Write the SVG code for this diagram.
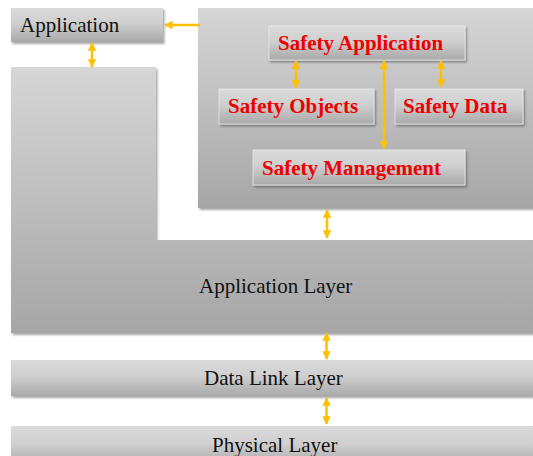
<svg xmlns="http://www.w3.org/2000/svg" width="533" height="456" viewBox="0 0 533 456">
  <defs>
    <linearGradient id="gBox" x1="0" y1="0" x2="0" y2="1">
      <stop offset="0" stop-color="#dadada"/>
      <stop offset="0.45" stop-color="#cfcfcf"/>
      <stop offset="1" stop-color="#a9a9a9"/>
    </linearGradient>
    <linearGradient id="gBig" x1="0" y1="0" x2="0" y2="1">
      <stop offset="0" stop-color="#d6d6d6"/>
      <stop offset="1" stop-color="#a6a6a6"/>
    </linearGradient>
    <filter id="shadow" x="-5%" y="-5%" width="115%" height="125%">
      <feDropShadow dx="1.5" dy="2" stdDeviation="1.2" flood-color="#000" flood-opacity="0.35"/>
    </filter>
    <marker id="head" viewBox="0 0 10 10" refX="9" refY="5" markerWidth="3.4" markerHeight="3.4" orient="auto-start-reverse" markerUnits="strokeWidth">
      <path d="M0,0 L10,5 L0,10 Z" fill="#ffc000"/>
    </marker>
    <style>
      .box { fill: url(#gBox); filter: url(#shadow); }
      .inner { fill: url(#gBox); stroke: #ececec; stroke-width: 0.8; filter: url(#shadow); }
      .big { fill: url(#gBig); filter: url(#shadow); }
      text { font-family: 'Liberation Serif', 'Times New Roman', 'DejaVu Serif', serif; font-size: 21px; }
      .lbl { fill: #111; }
      .red { font-weight: bold; fill: #ee0000; }
      .arr { stroke: #ffc000; stroke-width: 2.5; fill: none; }
    </style>
  </defs>

  <!-- Application Layer (L-shaped block) -->
  <g id="application-layer">
    <path class="big" d="M11,67 H156 V240 H533 V333 H11 Z"/>
    <text class="lbl" x="199" y="293" font-family="Liberation Serif, serif">Application Layer</text>
  </g>

  <!-- Safety panel -->
  <g id="safety-panel">
    <rect class="big" x="198" y="8" width="340" height="200"/>
  </g>

  <g id="application">
    <rect class="box" x="11" y="8" width="152" height="34"/>
    <text class="lbl" x="20" y="32" font-family="Liberation Serif, serif">Application</text>
  </g>

  <g id="safety-application">
    <rect class="inner" x="269" y="26" width="196" height="34"/>
    <text class="red" x="278" y="50" font-family="Liberation Serif, serif">Safety Application</text>
  </g>

  <g id="safety-objects">
    <rect class="inner" x="219" y="89" width="155" height="35"/>
    <text class="red" x="228" y="113" font-family="Liberation Serif, serif">Safety Objects</text>
  </g>

  <g id="safety-data">
    <rect class="inner" x="395" y="89" width="128" height="35"/>
    <text class="red" x="403" y="113" font-family="Liberation Serif, serif">Safety Data</text>
  </g>

  <g id="safety-management">
    <rect class="inner" x="253" y="150" width="212" height="35"/>
    <text class="red" x="262" y="175" font-family="Liberation Serif, serif">Safety Management</text>
  </g>

  <g id="data-link-layer">
    <rect class="box" x="11" y="360" width="530" height="36"/>
    <text class="lbl" x="204" y="385" font-family="Liberation Serif, serif">Data Link Layer</text>
  </g>

  <g id="physical-layer">
    <rect class="box" x="11" y="426" width="530" height="40"/>
    <text class="lbl" x="212" y="452" font-family="Liberation Serif, serif">Physical Layer</text>
  </g>

  <!-- Connectors -->
  <g id="connectors">
    <line class="arr" x1="200" y1="25" x2="165" y2="25" marker-end="url(#head)"/>
    <line class="arr" x1="92" y1="43" x2="92" y2="67" marker-start="url(#head)" marker-end="url(#head)"/>
    <line class="arr" x1="296" y1="61" x2="296" y2="88" marker-start="url(#head)" marker-end="url(#head)"/>
    <line class="arr" x1="441" y1="61" x2="441" y2="87" marker-start="url(#head)" marker-end="url(#head)"/>
    <line class="arr" x1="384" y1="61" x2="384" y2="149" marker-start="url(#head)" marker-end="url(#head)"/>
    <line class="arr" x1="327" y1="210" x2="327" y2="238" marker-start="url(#head)" marker-end="url(#head)"/>
    <line class="arr" x1="326.5" y1="333" x2="326.5" y2="359" marker-start="url(#head)" marker-end="url(#head)"/>
    <line class="arr" x1="326.5" y1="398" x2="326.5" y2="424" marker-start="url(#head)" marker-end="url(#head)"/>
  </g>
</svg>
